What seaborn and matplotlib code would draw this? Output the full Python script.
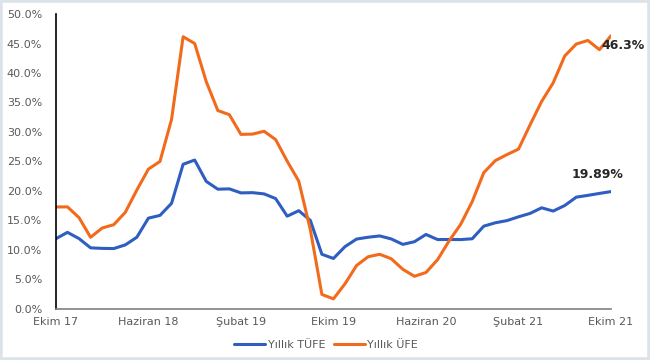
"""
Yıllık TÜFE ve ÜFE (Ekim 2017 - Ekim 2021) çizgi grafiği.
"""

import pandas as pd
import matplotlib.pyplot as plt
import seaborn as sns
from matplotlib.patches import Rectangle

# Aylık veriler, Ekim 17 - Ekim 21 (49 ay)
tufe = [11.90, 12.98, 11.92, 10.35, 10.26, 10.23, 10.85, 12.15, 15.39, 15.85,
        17.90, 24.52, 25.24, 21.62, 20.30, 20.35, 19.67, 19.71, 19.50, 18.71,
        15.72, 16.65, 15.01, 9.26, 8.55, 10.56, 11.84, 12.15, 12.37, 11.86,
        10.94, 11.39, 12.62, 11.76, 11.77, 11.75, 11.89, 14.03, 14.60, 14.97,
        15.61, 16.19, 17.14, 16.59, 17.53, 18.95, 19.25, 19.58, 19.89]
ufe = [17.28, 17.30, 15.47, 12.14, 13.71, 14.28, 16.37, 20.16, 23.71, 25.00,
       32.13, 46.15, 45.01, 38.54, 33.64, 32.93, 29.59, 29.64, 30.12, 28.71,
       25.04, 21.66, 13.45, 2.45, 1.70, 4.26, 7.36, 8.84, 9.26, 8.50,
       6.71, 5.53, 6.17, 8.33, 11.53, 14.33, 18.20, 23.11, 25.15, 26.16,
       27.09, 31.20, 35.17, 38.33, 42.89, 44.92, 45.52, 43.96, 46.31]
tick_labels = ["Ekim 17", "Haziran 18", "Şubat 19", "Ekim 19",
               "Haziran 20", "Şubat 21", "Ekim 21"]
yticks = [0, 5, 10, 15, 20, 25, 30, 35, 40, 45, 50]

df = pd.DataFrame({"ay": range(len(tufe)), "tufe": tufe, "ufe": ufe})

sns.set_style("white")
plt.rcParams["font.family"] = ["DejaVu Sans"]

blue = "#2E5EC0"
orange = "#F26B1D"
gray = "#595959"

fig = plt.figure(figsize=(6.5, 3.6), dpi=100)
ax = fig.add_axes([0.086, 0.142, 0.854, 0.819])

sns.lineplot(data=df, x="ay", y="tufe", ax=ax, color=blue, linewidth=2.2,
             label="Yıllık TÜFE")
sns.lineplot(data=df, x="ay", y="ufe", ax=ax, color=orange, linewidth=2.2,
             label="Yıllık ÜFE")

ax.set_xlim(0, len(tufe) - 1)
ax.set_ylim(0, 50)
ax.set_xticks(range(0, len(tufe), 8))
ax.set_xticklabels(tick_labels)
ax.set_yticks(yticks)
ax.set_yticklabels([f"{v:.1f}%" for v in yticks])
ax.set_xlabel("")
ax.set_ylabel("")
ax.tick_params(axis="both", labelsize=8, labelcolor=gray)
ax.tick_params(axis="x", direction="in", length=4, color="#808080", pad=6)
ax.tick_params(axis="y", length=0, pad=10)

for side in ["top", "right"]:
    ax.spines[side].set_visible(False)
ax.spines["left"].set_color("black")
ax.spines["left"].set_linewidth(1.2)
ax.spines["bottom"].set_color("#808080")
ax.spines["bottom"].set_linewidth(1.2)

# son değer etiketleri
last = len(tufe) - 1
ax.annotate(f"{ufe[-1]:.1f}%", (last, ufe[-1]), xytext=(-7, -7),
            textcoords="offset points", ha="left", va="center",
            fontsize=9, fontweight="bold", color="#262626")
ax.annotate(f"{tufe[-1]:.2f}%", (last, tufe[-1]), xytext=(-10, 12),
            textcoords="offset points", ha="center", va="center",
            fontsize=9, fontweight="bold", color="#262626")

leg = ax.legend(loc="center", bbox_to_anchor=(0.487, -0.122), ncol=2,
                frameon=False, fontsize=8, handlelength=2.8,
                handletextpad=0.2, columnspacing=0.8,
                borderpad=0, borderaxespad=0)
for t in leg.get_texts():
    t.set_color(gray)

# açık gri çerçeve
fig.patches.append(Rectangle((0, 0), 1, 1, transform=fig.transFigure,
                             fill=False, edgecolor="#DCE3E8", linewidth=4))

fig.savefig("out.png", dpi=100)
